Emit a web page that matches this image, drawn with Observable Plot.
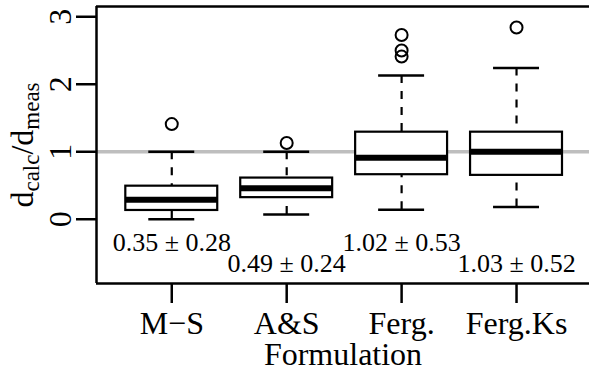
<!DOCTYPE html>
<html><head><meta charset="utf-8">
<script src="https://cdn.jsdelivr.net/npm/d3@7"></script>
<script src="https://cdn.jsdelivr.net/npm/@observablehq/plot@0.6"></script>
<style>body{margin:0;background:#fff} svg text{font-family:'Liberation Serif','Times New Roman',serif !important;}</style>
</head><body><div id="chart"></div>
<script>
const categories = ["M−S", "A&S", "Ferg.", "Ferg.Ks"];
const whiskerLow = [0.00, 0.07, 0.14, 0.18];
const q1 = [0.13, 0.32, 0.66, 0.65];
const medians = [0.29, 0.46, 0.91, 1.00];
const q3 = [0.49, 0.61, 1.29, 1.29];
const whiskerHigh = [1.00, 1.00, 2.13, 2.24];
const outliers = [[1.41], [1.13], [2.41, 2.50, 2.73], [2.84]];
const means = ["0.35", "0.49", "1.02", "1.03"];
const sds = ["0.28", "0.24", "0.53", "0.52"];
const yTicks = [0, 1, 2, 3];
const refLine = [1];

const boxes = categories.map((c, i) => ({
  pos: i + 1, c, lo: whiskerLow[i], q1: q1[i], med: medians[i], q3: q3[i], hi: whiskerHigh[i],
  mean: means[i], sd: sds[i]
}));
const outs = outliers.flatMap((v, i) => v.map(y => ({pos: i + 1, y})));

const yDomain = [-0.952, 3.152];
const xDomain = [0.345, 4.635];
const font = "'Liberation Serif', 'Times New Roman', serif";

const svg = Plot.plot({
  width: 589, height: 371,
  marginLeft: 96, marginRight: 0, marginTop: 6, marginBottom: 88,
  x: {domain: xDomain},
  y: {domain: yDomain},
  style: `font-family: ${font}; background: white; color: black;`,
  marks: [
    Plot.ruleY(refLine, {stroke: "#bebebe", strokeWidth: 3.5}),
    Plot.ruleX(boxes, {x: "pos", y1: "hi", y2: "q3", strokeWidth: 2.2, strokeDasharray: "8,8"}),
    Plot.ruleX(boxes, {x: "pos", y1: "lo", y2: "q1", strokeWidth: 2.2, strokeDasharray: "8,8"}),
    Plot.ruleY(boxes, {y: "hi", x1: d => d.pos - 0.2, x2: d => d.pos + 0.2, strokeWidth: 2.5}),
    Plot.ruleY(boxes, {y: "lo", x1: d => d.pos - 0.2, x2: d => d.pos + 0.2, strokeWidth: 2.5}),
    Plot.rect(boxes, {x1: d => d.pos - 0.4, x2: d => d.pos + 0.4, y1: "q1", y2: "q3", fill: "white", stroke: "black", strokeWidth: 2.2}),
    Plot.ruleY(boxes, {y: "med", x1: d => d.pos - 0.4, x2: d => d.pos + 0.4, strokeWidth: 6}),
    Plot.dot(outs, {x: "pos", y: "y", r: 6, stroke: "black", fill: "none", strokeWidth: 2}),
    Plot.text(boxes, {x: "pos", y: d => (d.pos % 2 ? -0.34 : -0.66), text: d => `${d.mean} ± ${d.sd}`, fontSize: 26, fontFamily: font, lineAnchor: "middle"}),
    Plot.ruleX([xDomain[0]], {y1: yDomain[0], y2: yDomain[1], strokeWidth: 2.5}),
    Plot.ruleY(yDomain, {strokeWidth: 2.5}),
    Plot.axisX({ticks: boxes.map(d => d.pos), tickFormat: p => categories[p - 1], tickSize: 20, tickPadding: 8, fontSize: 32, fontFamily: font, strokeWidth: 2.5, label: null}),
    Plot.axisY({ticks: yTicks, tickFormat: d => String(d), tickSize: 20, tickRotate: -90, tickPadding: 6, fontSize: 32, fontFamily: font, strokeWidth: 2.5, label: null}),
    Plot.text(["Formulation"], {frameAnchor: "bottom", dy: 71, fontSize: 32, fontFamily: font, lineAnchor: "middle"})
  ]
});

const title = d3.select(svg).append("text")
  .attr("transform", "translate(33,145) rotate(-90)")
  .attr("text-anchor", "middle")
  .attr("font-family", font)
  .attr("font-size", 32)
  .attr("fill", "black");
title.append("tspan").text("d");
title.append("tspan").attr("font-size", 23).attr("dy", 6).text("calc");
title.append("tspan").attr("dy", -6).text("/");
title.append("tspan").text("d");
title.append("tspan").attr("font-size", 23).attr("dy", 6).text("meas");

document.getElementById("chart").append(svg);
</script>
</body></html>
